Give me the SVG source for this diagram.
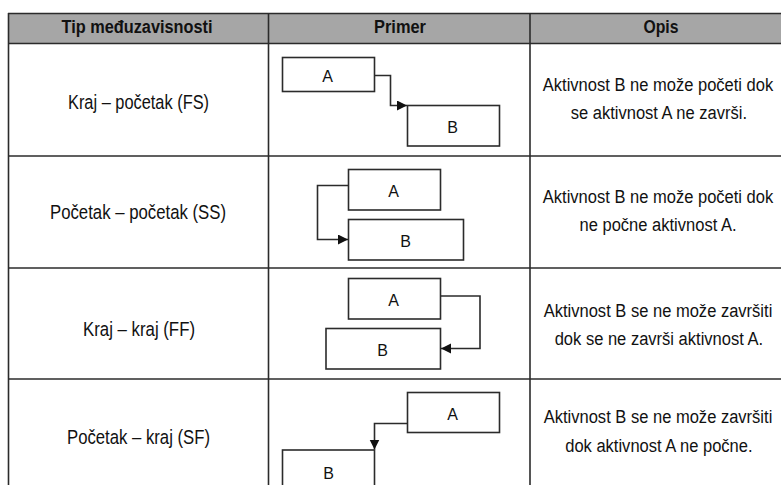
<svg xmlns="http://www.w3.org/2000/svg" width="781" height="485" viewBox="0 0 781 485">
<style>
.grid{stroke:#2b2b2b;stroke-width:1.6;fill:none}
.hdr{fill:#a6a6a6}
.th{font-family:"Liberation Sans",Arial,sans-serif;font-weight:bold;font-size:18px;fill:#111;text-anchor:middle}
.lbl{font-family:"Liberation Sans",Arial,sans-serif;font-size:20.5px;fill:#111;text-anchor:middle}
.desc{font-family:"Liberation Sans",Arial,sans-serif;font-size:19px;fill:#111;text-anchor:middle}
.box{fill:#fff;stroke:#2b2b2b;stroke-width:1.6}
.bt{font-family:"Liberation Sans",Arial,sans-serif;font-size:16px;fill:#111;text-anchor:middle}
.con{fill:none;stroke:#2b2b2b;stroke-width:1.6}
</style>
<defs>
<marker id="arr" markerUnits="userSpaceOnUse" markerWidth="11" markerHeight="11" refX="10" refY="5" orient="auto">
<path d="M0,0 L10,5 L0,10 z" fill="#111"/>
</marker>
</defs>
<rect width="781" height="485" fill="#fff"/>
<g id="table">
<rect class="hdr" x="8.5" y="13.5" width="772.5" height="30"/>
<line class="grid" x1="8" y1="13.5" x2="781" y2="13.5" stroke-width="2.2"/>
<line class="grid" x1="8" y1="43.5" x2="781" y2="43.5"/>
<line class="grid" x1="8" y1="156" x2="781" y2="156"/>
<line class="grid" x1="8" y1="268" x2="781" y2="268"/>
<line class="grid" x1="8" y1="379" x2="781" y2="379"/>
<line class="grid" x1="8.5" y1="13" x2="8.5" y2="485"/>
<line class="grid" x1="268.5" y1="13" x2="268.5" y2="485"/>
<line class="grid" x1="530" y1="13" x2="530" y2="485"/>
<text class="th" x="137" y="33" textLength="151" lengthAdjust="spacingAndGlyphs">Tip međuzavisnosti</text>
<text class="th" x="400" y="33" textLength="52" lengthAdjust="spacingAndGlyphs">Primer</text>
<text class="th" x="661" y="33" textLength="35" lengthAdjust="spacingAndGlyphs">Opis</text>
</g>
<g id="labels">
<text class="lbl" x="138.5" y="109" textLength="141" lengthAdjust="spacingAndGlyphs">Kraj – početak (FS)</text>
<text class="lbl" x="138" y="219" textLength="176" lengthAdjust="spacingAndGlyphs">Početak – početak (SS)</text>
<text class="lbl" x="139" y="336" textLength="112" lengthAdjust="spacingAndGlyphs">Kraj – kraj (FF)</text>
<text class="lbl" x="138.5" y="444" textLength="143" lengthAdjust="spacingAndGlyphs">Početak – kraj (SF)</text>
</g>
<g id="descriptions" transform="translate(658,0) scale(0.87,1)">
<text class="desc" x="0" y="91">Aktivnost B ne može početi dok</text>
<text class="desc" x="1" y="119">se aktivnost A ne završi.</text>
<text class="desc" x="0" y="203">Aktivnost B ne može početi dok</text>
<text class="desc" x="0" y="231">ne počne aktivnost A.</text>
<text class="desc" x="0" y="317">Aktivnost B se ne može završiti</text>
<text class="desc" x="1" y="345">dok se ne završi aktivnost A.</text>
<text class="desc" x="0" y="423">Aktivnost B se ne može završiti</text>
<text class="desc" x="1" y="452">dok aktivnost A ne počne.</text>
</g>
<g id="fs-a"><rect class="box" x="282.5" y="57.5" width="92" height="34"/><text class="bt" x="327.5" y="81.5">A</text></g>
<g id="fs-b"><rect class="box" x="407.5" y="105.5" width="92" height="40.5"/><text class="bt" x="452.5" y="132.5">B</text></g>
<g id="ss-a"><rect class="box" x="348.5" y="169.5" width="92" height="40.5"/><text class="bt" x="393.5" y="196.5">A</text></g>
<g id="ss-b"><rect class="box" x="348.5" y="219.5" width="115" height="40.5"/><text class="bt" x="405.5" y="246.5">B</text></g>
<g id="ff-a"><rect class="box" x="348.5" y="278.5" width="92" height="40.5"/><text class="bt" x="393.5" y="305.5">A</text></g>
<g id="ff-b"><rect class="box" x="326" y="328.5" width="114.5" height="40.5"/><text class="bt" x="382.5" y="355.5">B</text></g>
<g id="sf-a"><rect class="box" x="407.5" y="392.5" width="92" height="40"/><text class="bt" x="452.5" y="419.5">A</text></g>
<g id="sf-b"><rect class="box" x="282.5" y="450" width="92" height="50"/><text class="bt" x="328.5" y="478.5">B</text></g>
<g id="connectors">
<path class="con" d="M374.5,75.5 H390.5 V105.5 H407" marker-end="url(#arr)"/>
<path class="con" d="M348.5,185.5 H317.5 V239.5 H348" marker-end="url(#arr)"/>
<path class="con" d="M440.5,296 H480 V348.5 H441" marker-end="url(#arr)"/>
<path class="con" d="M407.5,423.5 H374.5 V449.5" marker-end="url(#arr)"/>
</g>
</svg>
